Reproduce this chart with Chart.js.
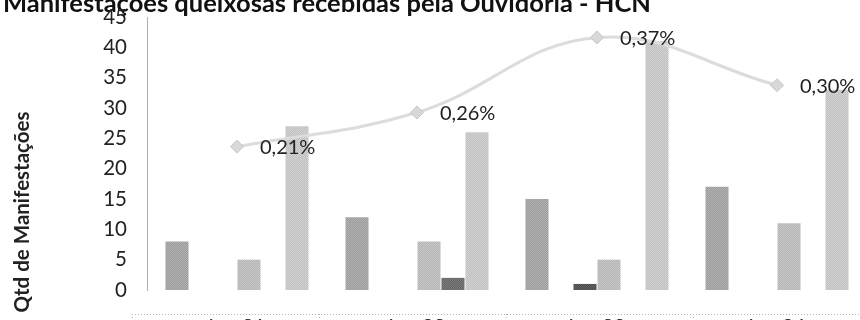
<!DOCTYPE html>
<html>
<head>
<meta charset="utf-8">
<style>
  html, body { margin: 0; padding: 0; background: #fff; width: 860px; height: 320px; overflow: hidden; }
  #wrap { position: absolute; left: 0; top: -40px; width: 900px; height: 400px; }
</style>
<script src="https://cdn.jsdelivr.net/npm/chart.js@4/dist/chart.umd.min.js"></script>
</head>
<body>
<div id="wrap"><canvas id="chart" width="900" height="400"></canvas></div>
<script>
// Categories (months) and yearly series
const categories = ['jan-21', 'jan-22', 'jan-23', 'jan-24'];
const serieA = [8, 12, 15, 17];
const serieVazia = [0, 0, 0, 0];
const serieB = [0, 0, 1, 0];
const serieC = [5, 8, 5, 11];
const serieD = [0, 2, 0, 0];
const serieE = [27, 26, 41, 33];
// Share of complaints (percent)
const percentual = [0.21, 0.26, 0.37, 0.30];
// Left axis range
const eixoMin = 0, eixoMax = 45, eixoPasso = 5;

const FONT = 'Lato, "Open Sans", sans-serif';

// Fine halftone fill for bars
function dither(c1, c2) {
  const p = document.createElement('canvas');
  p.width = 2; p.height = 2;
  const g = p.getContext('2d');
  g.fillStyle = c1; g.fillRect(0, 0, 2, 2);
  g.fillStyle = c2; g.fillRect(0, 0, 1, 1); g.fillRect(1, 1, 1, 1);
  return g.createPattern(p, 'repeat');
}

const corA = dither('#9a9a9a', '#b2b2b2');
const corB = dither('#4a4a4a', '#626262');
const corC = dither('#b4b4b4', '#c8c8c8');
const corD = dither('#626262', '#7e7e7e');
const corE = dither('#c0c0c0', '#d2d2d2');

// Vertical axis title
const yTitlePlugin = {
  id: 'yTitle',
  afterDraw(chart) {
    const ctx = chart.ctx, a = chart.chartArea;
    ctx.save();
    ctx.translate(29, a.bottom - 78);
    ctx.rotate(-Math.PI / 2);
    ctx.font = 'bold 20.5px ' + FONT;
    ctx.fillStyle = '#222';
    ctx.textAlign = 'center';
    ctx.textBaseline = 'alphabetic';
    ctx.fillText('Qtd de Manifestações', 0, 0);
    ctx.restore();
  }
};

// Dotted data-table grid under the plot
const tablePlugin = {
  id: 'tableGrid',
  afterDraw(chart) {
    const ctx = chart.ctx, a = chart.chartArea;
    const top = a.bottom + 24;
    const left = a.left - 15;
    const cellW = 187;
    ctx.save();
    ctx.strokeStyle = '#b5b5b5';
    ctx.lineWidth = 1;
    ctx.setLineDash([1, 2]);
    ctx.beginPath();
    ctx.moveTo(left, top + 0.5);
    ctx.lineTo(chart.width, top + 0.5);
    for (let i = 0; i <= categories.length; i++) {
      const x = Math.round(left + i * cellW) + 0.5;
      ctx.moveTo(x, top);
      ctx.lineTo(x, chart.height);
    }
    ctx.stroke();
    ctx.restore();
  }
};

// Percent labels next to the line points
const pctPlugin = {
  id: 'pctLabels',
  afterDatasetsDraw(chart) {
    const ctx = chart.ctx;
    const idx = chart.data.datasets.findIndex(d => d.type === 'line');
    const meta = chart.getDatasetMeta(idx);
    const vals = chart.data.datasets[idx].data;
    ctx.save();
    ctx.font = '20px ' + FONT;
    ctx.fillStyle = '#222';
    ctx.textAlign = 'left';
    ctx.textBaseline = 'middle';
    meta.data.forEach((pt, i) => {
      const txt = vals[i].toFixed(2).replace('.', ',') + '%';
      ctx.fillText(txt, pt.x + 23, pt.y + 1);
    });
    ctx.restore();
  }
};

const barBase = { type: 'bar', yAxisID: 'y', order: 1, borderWidth: 0, barPercentage: 0.96, categoryPercentage: 0.8 };

new Chart(document.getElementById('chart'), {
  data: {
    labels: categories,
    datasets: [
      { type: 'line', label: '%', data: percentual, yAxisID: 'y1', order: 0,
        borderColor: '#dcdcdc', borderWidth: 3, tension: 0.4,
        pointStyle: 'rectRot', pointRadius: 6.5, pointBackgroundColor: '#d8d8d8',
        pointBorderColor: '#c6c6c6', pointBorderWidth: 1 },
      { ...barBase, label: 'A', data: serieA, backgroundColor: corA },
      { ...barBase, label: 'V', data: serieVazia, backgroundColor: corA },
      { ...barBase, label: 'B', data: serieB, backgroundColor: corB },
      { ...barBase, label: 'C', data: serieC, backgroundColor: corC },
      { ...barBase, label: 'D', data: serieD, backgroundColor: corD },
      { ...barBase, label: 'E', data: serieE, backgroundColor: corE }
    ]
  },
  options: {
    responsive: false,
    animation: false,
    devicePixelRatio: 1,
    layout: { padding: { left: 3, right: 33, top: 0, bottom: 0 } },
    plugins: {
      legend: { display: false },
      tooltip: { enabled: false },
      title: {
        display: true,
        text: 'Manifestações queixosas recebidas pela Ouvidoria - HCN',
        align: 'start',
        color: '#111',
        font: { family: FONT, size: 25.5, weight: 'bold', lineHeight: 1.2 },
        padding: { top: 28.4, bottom: -2 }
      }
    },
    scales: {
      x: {
        grid: { display: false, drawTicks: false },
        border: { display: false },
        ticks: { color: '#222', font: { family: FONT, size: 20 }, padding: 25, maxRotation: 0 },
        afterFit(s) { s.height = 70; }
      },
      y: {
        position: 'left',
        min: eixoMin, max: eixoMax,
        grid: { display: false, drawTicks: false },
        border: { display: true, color: '#b0b0b0', width: 1, dash: [1, 2] },
        ticks: { stepSize: eixoPasso, color: '#222', font: { family: FONT, size: 20.5 }, padding: 20 },
        afterFit(s) { s.width = 144; }
      },
      y1: { display: false, min: 0, max: 0.4 }
    }
  },
  plugins: [yTitlePlugin, tablePlugin, pctPlugin]
});
</script>
</body>
</html>
